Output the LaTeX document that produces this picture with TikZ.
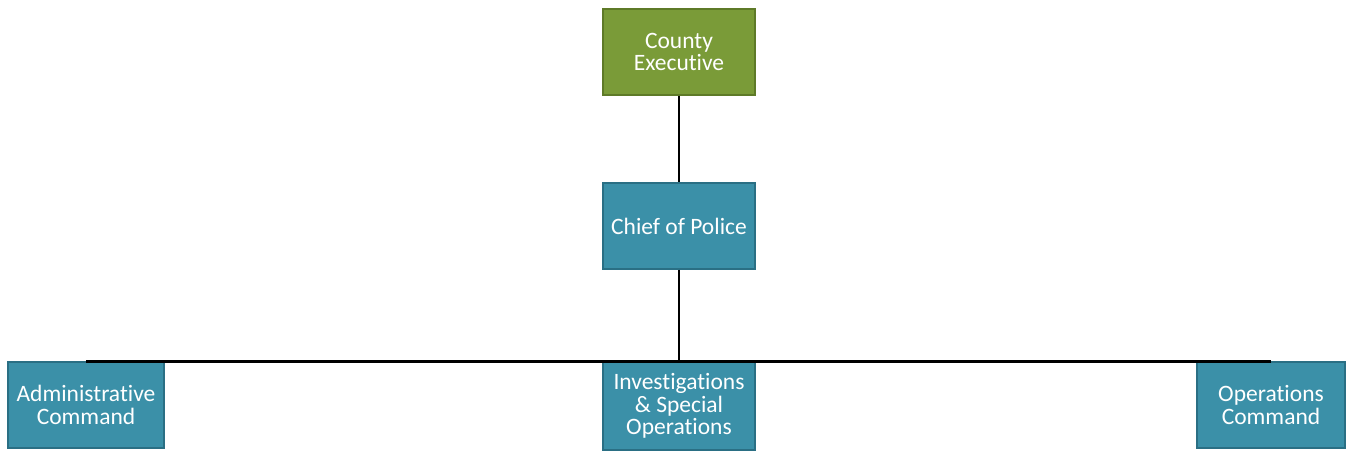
\documentclass[tikz,border=0pt]{standalone}
\usepackage{fontspec}
\setmainfont{Carlito}[Ligatures={NoCommon}]
\definecolor{leafgreen}{HTML}{7A9B38}
\definecolor{leafdark}{HTML}{5E7A28}
\definecolor{tealbox}{HTML}{3B90A8}
\definecolor{tealdark}{HTML}{2A6F84}
\begin{document}
\begin{tikzpicture}[x=1pt,y=-1pt,
  orgbox/.style={draw=tealdark, line width=1.4pt, fill=tealbox,
    text=white, font=\fontsize{23.5}{22.5}\selectfont, align=center,
    inner sep=0pt, minimum height=86pt},
  topbox/.style={orgbox, draw=leafdark, fill=leafgreen},
  link/.style={draw=black, line width=2.4pt}]
  \useasboundingbox (0,0) rectangle (1346,450);
  \node[topbox, minimum width=152pt] (exec) at (679,52) {County\\Executive};
  \node[orgbox, minimum width=152pt] (chief) at (679,226) {Chief of Police};
  \node[orgbox, minimum width=156pt] (admin) at (86,405) {Administrative\\Command};
  \node[orgbox, minimum width=152pt, minimum height=88pt] (invest) at (679,406) {Investigations\\\& Special\\Operations};
  \node[orgbox, minimum width=148pt] (ops) at (1271,405) {Operations\\Command};
  \draw[link] (exec.south) -- (chief.north);
  \draw[link] (chief.south) -- (invest.north);
  \draw[link] (admin.north) -- (ops.north);
\end{tikzpicture}
\end{document}
